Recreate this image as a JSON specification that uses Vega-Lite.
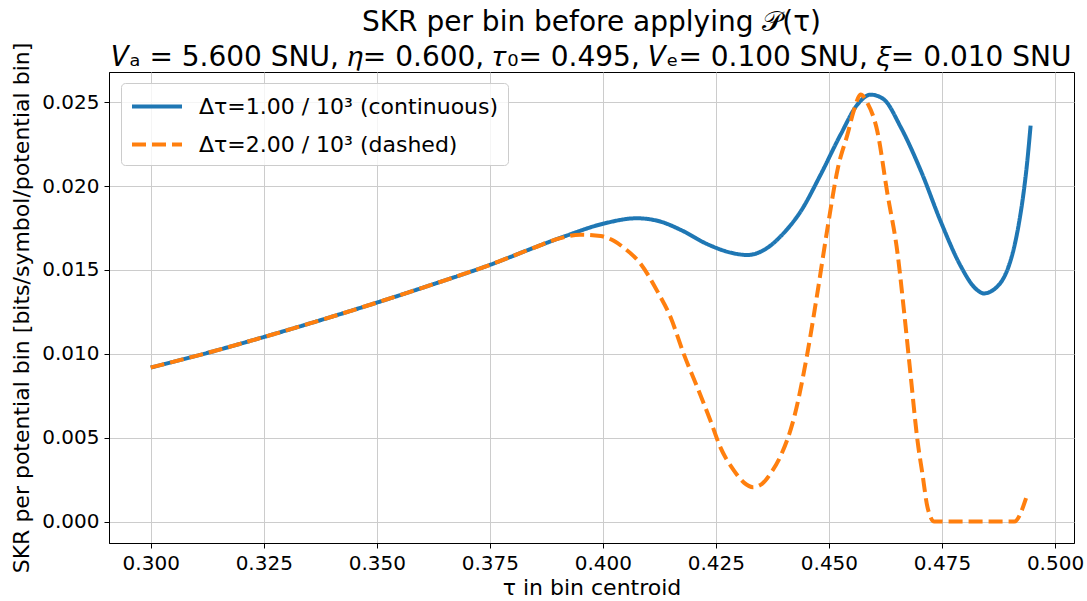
{
  "$schema": "https://vega.github.io/schema/vega-lite/v6.json",
  "width": 965,
  "height": 471,
  "autosize": "none",
  "padding": {"left": 109, "top": 72, "right": 13, "bottom": 58},
  "title": {
    "text": ["SKR per bin before applying 𝒫(τ)", "𝑉ₐ =  5.600 SNU, 𝜂= 0.600, 𝜏₀= 0.495, 𝑉ₑ= 0.100 SNU, 𝜉= 0.010 SNU"],
    "fontSize": 28,
    "font": "DejaVu Sans",
    "fontWeight": "normal",
    "lineHeight": 35,
    "anchor": "middle",
    "offset": 3,
    "dy": 33,
    "color": "black"
  },
  "data": {
    "values": [
      {"tau": 0.300, "skr": 0.00918, "series": "Δτ=1.00 / 10³ (continuous)"},
      {"tau": 0.3125, "skr": 0.01005, "series": "Δτ=1.00 / 10³ (continuous)"},
      {"tau": 0.325, "skr": 0.01100, "series": "Δτ=1.00 / 10³ (continuous)"},
      {"tau": 0.3375, "skr": 0.01200, "series": "Δτ=1.00 / 10³ (continuous)"},
      {"tau": 0.350, "skr": 0.01305, "series": "Δτ=1.00 / 10³ (continuous)"},
      {"tau": 0.3625, "skr": 0.01415, "series": "Δτ=1.00 / 10³ (continuous)"},
      {"tau": 0.375, "skr": 0.01530, "series": "Δτ=1.00 / 10³ (continuous)"},
      {"tau": 0.385, "skr": 0.01635, "series": "Δτ=1.00 / 10³ (continuous)"},
      {"tau": 0.392, "skr": 0.01705, "series": "Δτ=1.00 / 10³ (continuous)"},
      {"tau": 0.400, "skr": 0.01775, "series": "Δτ=1.00 / 10³ (continuous)"},
      {"tau": 0.4075, "skr": 0.01808, "series": "Δτ=1.00 / 10³ (continuous)"},
      {"tau": 0.4125, "skr": 0.01790, "series": "Δτ=1.00 / 10³ (continuous)"},
      {"tau": 0.4175, "skr": 0.01735, "series": "Δτ=1.00 / 10³ (continuous)"},
      {"tau": 0.423, "skr": 0.01655, "series": "Δτ=1.00 / 10³ (continuous)"},
      {"tau": 0.428, "skr": 0.01605, "series": "Δτ=1.00 / 10³ (continuous)"},
      {"tau": 0.432, "skr": 0.01589, "series": "Δτ=1.00 / 10³ (continuous)"},
      {"tau": 0.436, "skr": 0.01625, "series": "Δτ=1.00 / 10³ (continuous)"},
      {"tau": 0.440, "skr": 0.01720, "series": "Δτ=1.00 / 10³ (continuous)"},
      {"tau": 0.4438, "skr": 0.01851, "series": "Δτ=1.00 / 10³ (continuous)"},
      {"tau": 0.4482, "skr": 0.02070, "series": "Δτ=1.00 / 10³ (continuous)"},
      {"tau": 0.4526, "skr": 0.02308, "series": "Δτ=1.00 / 10³ (continuous)"},
      {"tau": 0.4563, "skr": 0.02486, "series": "Δτ=1.00 / 10³ (continuous)"},
      {"tau": 0.4592, "skr": 0.02545, "series": "Δτ=1.00 / 10³ (continuous)"},
      {"tau": 0.4620, "skr": 0.02520, "series": "Δτ=1.00 / 10³ (continuous)"},
      {"tau": 0.4659, "skr": 0.02350, "series": "Δτ=1.00 / 10³ (continuous)"},
      {"tau": 0.4705, "skr": 0.02080, "series": "Δτ=1.00 / 10³ (continuous)"},
      {"tau": 0.4747, "skr": 0.01790, "series": "Δτ=1.00 / 10³ (continuous)"},
      {"tau": 0.4792, "skr": 0.01520, "series": "Δτ=1.00 / 10³ (continuous)"},
      {"tau": 0.4822, "skr": 0.01395, "series": "Δτ=1.00 / 10³ (continuous)"},
      {"tau": 0.4843, "skr": 0.01360, "series": "Δτ=1.00 / 10³ (continuous)"},
      {"tau": 0.4857, "skr": 0.01370, "series": "Δτ=1.00 / 10³ (continuous)"},
      {"tau": 0.4872, "skr": 0.01400, "series": "Δτ=1.00 / 10³ (continuous)"},
      {"tau": 0.4886, "skr": 0.01450, "series": "Δτ=1.00 / 10³ (continuous)"},
      {"tau": 0.4898, "skr": 0.01525, "series": "Δτ=1.00 / 10³ (continuous)"},
      {"tau": 0.4910, "skr": 0.01640, "series": "Δτ=1.00 / 10³ (continuous)"},
      {"tau": 0.4920, "skr": 0.01775, "series": "Δτ=1.00 / 10³ (continuous)"},
      {"tau": 0.4930, "skr": 0.01950, "series": "Δτ=1.00 / 10³ (continuous)"},
      {"tau": 0.4938, "skr": 0.02130, "series": "Δτ=1.00 / 10³ (continuous)"},
      {"tau": 0.4946, "skr": 0.02360, "series": "Δτ=1.00 / 10³ (continuous)"},

      {"tau": 0.300, "skr": 0.00918, "series": "Δτ=2.00 / 10³ (dashed)"},
      {"tau": 0.3125, "skr": 0.01005, "series": "Δτ=2.00 / 10³ (dashed)"},
      {"tau": 0.325, "skr": 0.01100, "series": "Δτ=2.00 / 10³ (dashed)"},
      {"tau": 0.3375, "skr": 0.01200, "series": "Δτ=2.00 / 10³ (dashed)"},
      {"tau": 0.350, "skr": 0.01305, "series": "Δτ=2.00 / 10³ (dashed)"},
      {"tau": 0.3625, "skr": 0.01415, "series": "Δτ=2.00 / 10³ (dashed)"},
      {"tau": 0.375, "skr": 0.01530, "series": "Δτ=2.00 / 10³ (dashed)"},
      {"tau": 0.385, "skr": 0.01635, "series": "Δτ=2.00 / 10³ (dashed)"},
      {"tau": 0.390, "skr": 0.01685, "series": "Δτ=2.00 / 10³ (dashed)"},
      {"tau": 0.395, "skr": 0.01710, "series": "Δτ=2.00 / 10³ (dashed)"},
      {"tau": 0.3995, "skr": 0.01702, "series": "Δτ=2.00 / 10³ (dashed)"},
      {"tau": 0.4025, "skr": 0.01672, "series": "Δτ=2.00 / 10³ (dashed)"},
      {"tau": 0.4046, "skr": 0.01633, "series": "Δτ=2.00 / 10³ (dashed)"},
      {"tau": 0.4083, "skr": 0.01538, "series": "Δτ=2.00 / 10³ (dashed)"},
      {"tau": 0.4120, "skr": 0.01375, "series": "Δτ=2.00 / 10³ (dashed)"},
      {"tau": 0.4150, "skr": 0.01216, "series": "Δτ=2.00 / 10³ (dashed)"},
      {"tau": 0.4179, "skr": 0.00998, "series": "Δτ=2.00 / 10³ (dashed)"},
      {"tau": 0.4209, "skr": 0.00799, "series": "Δτ=2.00 / 10³ (dashed)"},
      {"tau": 0.4238, "skr": 0.00601, "series": "Δτ=2.00 / 10³ (dashed)"},
      {"tau": 0.4260, "skr": 0.00442, "series": "Δτ=2.00 / 10³ (dashed)"},
      {"tau": 0.4290, "skr": 0.00304, "series": "Δτ=2.00 / 10³ (dashed)"},
      {"tau": 0.4312, "skr": 0.00232, "series": "Δτ=2.00 / 10³ (dashed)"},
      {"tau": 0.4332, "skr": 0.00205, "series": "Δτ=2.00 / 10³ (dashed)"},
      {"tau": 0.4352, "skr": 0.00225, "series": "Δτ=2.00 / 10³ (dashed)"},
      {"tau": 0.4373, "skr": 0.00295, "series": "Δτ=2.00 / 10³ (dashed)"},
      {"tau": 0.4393, "skr": 0.00390, "series": "Δτ=2.00 / 10³ (dashed)"},
      {"tau": 0.4423, "skr": 0.00621, "series": "Δτ=2.00 / 10³ (dashed)"},
      {"tau": 0.4452, "skr": 0.00998, "series": "Δτ=2.00 / 10³ (dashed)"},
      {"tau": 0.4474, "skr": 0.01355, "series": "Δτ=2.00 / 10³ (dashed)"},
      {"tau": 0.4497, "skr": 0.01752, "series": "Δτ=2.00 / 10³ (dashed)"},
      {"tau": 0.4520, "skr": 0.02110, "series": "Δτ=2.00 / 10³ (dashed)"},
      {"tau": 0.4541, "skr": 0.02308, "series": "Δτ=2.00 / 10³ (dashed)"},
      {"tau": 0.4555, "skr": 0.02450, "series": "Δτ=2.00 / 10³ (dashed)"},
      {"tau": 0.4570, "skr": 0.02546, "series": "Δτ=2.00 / 10³ (dashed)"},
      {"tau": 0.4585, "skr": 0.02496, "series": "Δτ=2.00 / 10³ (dashed)"},
      {"tau": 0.4607, "skr": 0.02327, "series": "Δτ=2.00 / 10³ (dashed)"},
      {"tau": 0.4629, "skr": 0.01960, "series": "Δτ=2.00 / 10³ (dashed)"},
      {"tau": 0.4652, "skr": 0.01593, "series": "Δτ=2.00 / 10³ (dashed)"},
      {"tau": 0.4666, "skr": 0.01256, "series": "Δτ=2.00 / 10³ (dashed)"},
      {"tau": 0.4680, "skr": 0.00890, "series": "Δτ=2.00 / 10³ (dashed)"},
      {"tau": 0.4696, "skr": 0.00480, "series": "Δτ=2.00 / 10³ (dashed)"},
      {"tau": 0.4707, "skr": 0.00280, "series": "Δτ=2.00 / 10³ (dashed)"},
      {"tau": 0.4718, "skr": 0.00085, "series": "Δτ=2.00 / 10³ (dashed)"},
      {"tau": 0.4733, "skr": 0.0, "series": "Δτ=2.00 / 10³ (dashed)"},
      {"tau": 0.4910, "skr": 0.0, "series": "Δτ=2.00 / 10³ (dashed)"},
      {"tau": 0.4936, "skr": 0.00140, "series": "Δτ=2.00 / 10³ (dashed)"}
    ]
  },
  "mark": {"type": "line", "strokeWidth": 4, "clip": true, "interpolate": "monotone"},
  "encoding": {
    "x": {
      "field": "tau",
      "type": "quantitative",
      "scale": {"domain": [0.29077, 0.5042], "nice": false, "zero": false},
      "axis": {
        "values": [0.3, 0.325, 0.35, 0.375, 0.4, 0.425, 0.45, 0.475, 0.5],
        "format": ".3f",
        "title": "τ in bin centroid",
        "titlePadding": 4
      }
    },
    "y": {
      "field": "skr",
      "type": "quantitative",
      "scale": {"domain": [-0.00128, 0.0268], "nice": false, "zero": false},
      "axis": {
        "values": [0, 0.005, 0.01, 0.015, 0.02, 0.025],
        "format": ".3f",
        "title": "SKR per potential bin [bits/symbol/potential bin]",
        "titlePadding": 8
      }
    },
    "color": {
      "field": "series",
      "type": "nominal",
      "scale": {"domain": ["Δτ=1.00 / 10³ (continuous)", "Δτ=2.00 / 10³ (dashed)"], "range": ["#1f77b4", "#ff7f0e"]},
      "legend": {"title": null, "orient": "none", "legendX": 12, "legendY": 11}
    },
    "strokeDash": {
      "field": "series",
      "type": "nominal",
      "scale": {"domain": ["Δτ=1.00 / 10³ (continuous)", "Δτ=2.00 / 10³ (dashed)"], "range": [[1, 0], [14, 6]]},
      "legend": {"title": null, "orient": "none", "legendX": 12, "legendY": 11}
    }
  },
  "config": {
    "font": "DejaVu Sans",
    "view": {"stroke": "black", "strokeWidth": 1},
    "axis": {
      "labelFont": "DejaVu Sans",
      "labelFontSize": 20,
      "labelColor": "black",
      "titleFont": "DejaVu Sans",
      "titleFontSize": 22,
      "titleFontWeight": "normal",
      "titleColor": "black",
      "domainColor": "black",
      "tickColor": "black",
      "tickSize": 5,
      "labelPadding": 5,
      "gridColor": "#cccccc",
      "gridWidth": 1,
      "labelFlush": false,
      "labelOverlap": false
    },
    "legend": {
      "symbolType": "M-1,0L3,0",
      "symbolSize": 625,
      "symbolStrokeWidth": 4,
      "labelFont": "DejaVu Sans",
      "labelFontSize": 22,
      "labelColor": "black",
      "labelLimit": 600,
      "labelOffset": 40,
      "fillColor": "rgba(255,255,255,0.8)",
      "strokeColor": "#cccccc",
      "cornerRadius": 4,
      "padding": 9,
      "rowPadding": 12
    }
  }
}
